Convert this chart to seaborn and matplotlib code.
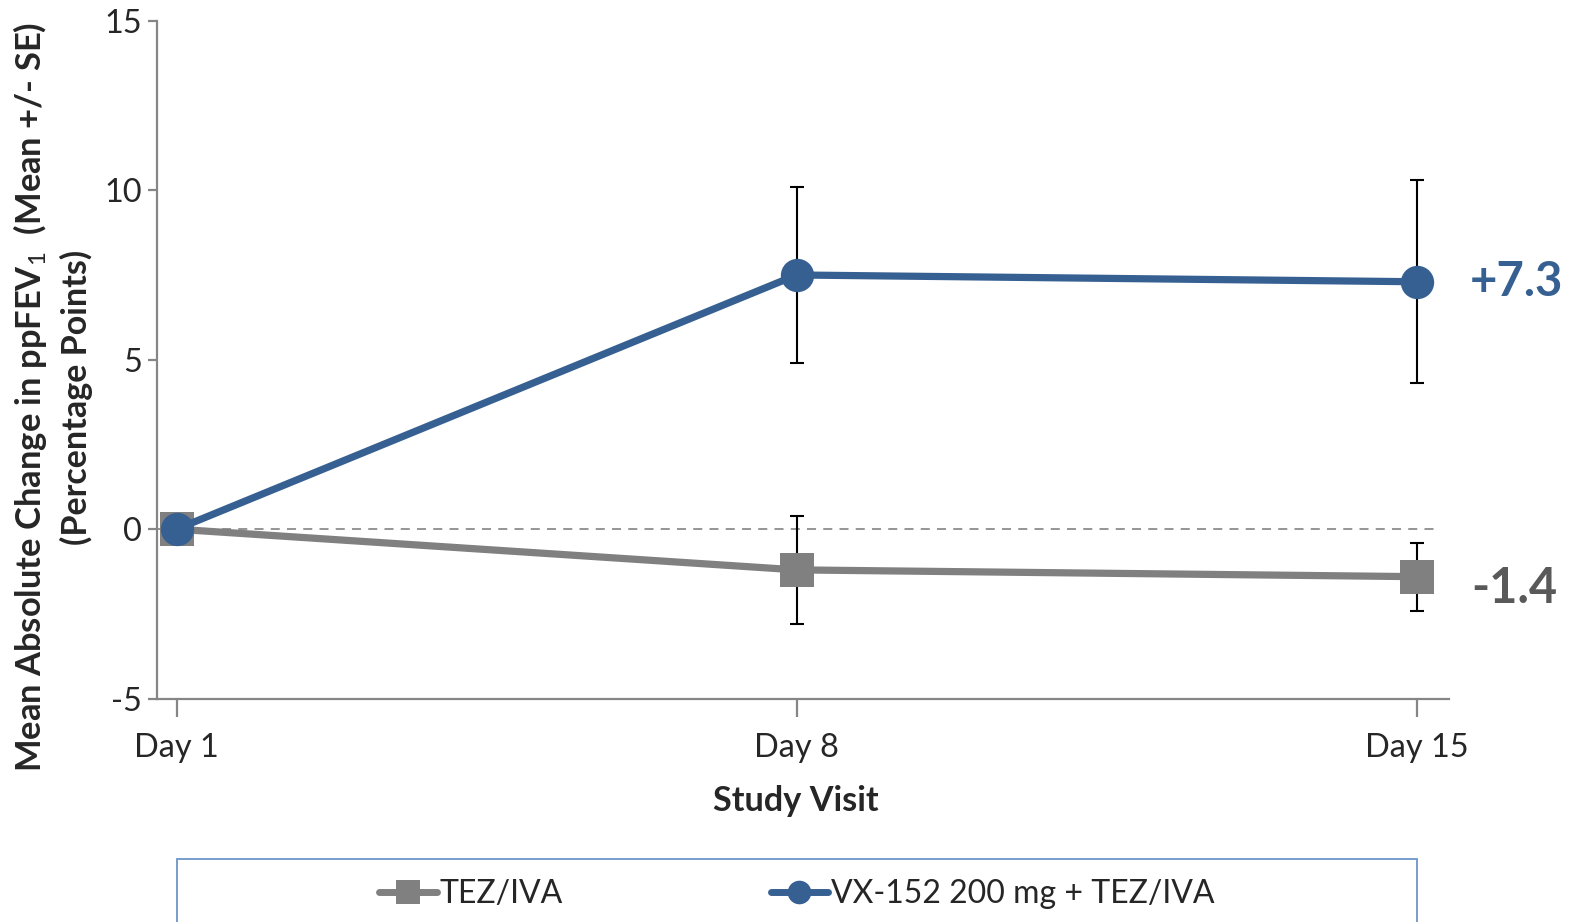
import matplotlib
matplotlib.use("Agg")
import matplotlib.pyplot as plt
from matplotlib.lines import Line2D
from matplotlib.patches import Rectangle
import seaborn as sns
import pandas as pd

# ---- data ----
visits = ["Day 1", "Day 8", "Day 15"]
groups = ["TEZ/IVA", "VX-152 200 mg + TEZ/IVA"]
tez_mean = [0.0, -1.2, -1.4]
tez_se = [0.0, 1.6, 1.0]
vx_mean = [0.0, 7.5, 7.3]
vx_se = [0.0, 2.6, 3.0]
end_labels = ["-1.4", "+7.3"]
yticks = [-5, 0, 5, 10, 15]

BLUE = "#366092"
GRAY = "#808080"
DGRAY = "#595959"
SPINE = "#868686"

sns.set_style("white")
plt.rcParams["font.family"] = ["Lato", "DejaVu Sans"]
plt.rcParams["axes.unicode_minus"] = False
plt.rcParams["mathtext.fontset"] = "custom"
plt.rcParams["mathtext.rm"] = "Lato"
plt.rcParams["mathtext.bf"] = "Lato:bold"
plt.rcParams["mathtext.it"] = "Lato"

df = pd.DataFrame({
    "x": list(range(len(visits))) * 2,
    "mean": tez_mean + vx_mean,
    "se": tez_se + vx_se,
    "group": [groups[0]] * len(visits) + [groups[1]] * len(visits),
})

fig = plt.figure(figsize=(15.75, 9.22), dpi=100)
ax = fig.add_axes([0.0995, 0.2422, 0.8205, 0.7353])

# zero reference line
ax.plot([-0.032, 2.03], [0, 0], color="#8c8c8c", lw=1.3, ls=(0, (5, 4)), zorder=1)

sns.lineplot(data=df, x="x", y="mean", hue="group", style="group",
             hue_order=groups, style_order=groups,
             palette={groups[0]: GRAY, groups[1]: BLUE},
             markers={groups[0]: "s", groups[1]: "o"}, dashes=False,
             linewidth=5.2, markersize=24, markeredgewidth=0,
             errorbar=None, legend=False, ax=ax, zorder=3)

for g, m, s in [(groups[0], tez_mean, tez_se), (groups[1], vx_mean, vx_se)]:
    xs = [i for i in range(len(visits)) if s[i] > 0]
    ax.errorbar(xs, [m[i] for i in xs], yerr=[s[i] for i in xs], fmt="none",
                ecolor="black", elinewidth=1.5, capsize=5, capthick=1.5, zorder=2)

# end labels
ax.text(2.088, tez_mean[-1] - 0.35, end_labels[0], color=DGRAY, fontsize=35,
        fontweight="bold", ha="left", va="center", clip_on=False)
ax.text(2.085, vx_mean[-1], end_labels[1], color=BLUE, fontsize=34,
        fontweight="bold", ha="left", va="center", clip_on=False)

ax.set_xlim(-0.032, 2.052)
ax.set_ylim(-5, 15)
ax.set_xticks(range(len(visits)))
ax.set_xticklabels(visits)
ax.set_yticks(yticks)
ax.set_xlabel("")
ax.set_ylabel("")
for sp in ["top", "right"]:
    ax.spines[sp].set_visible(False)
for sp in ["left", "bottom"]:
    ax.spines[sp].set_color(SPINE)
    ax.spines[sp].set_linewidth(1.6)
ax.tick_params(axis="x", direction="out", length=13, width=1.6, color=SPINE,
               labelsize=23.4, pad=12, bottom=True)
ax.tick_params(axis="y", direction="out", length=6.5, width=1.6, color=SPINE,
               labelsize=23.4, pad=4, left=True)

fig.text(0.5055, 1 - 801 / 922, "Study Visit", ha="center", va="center",
         fontsize=24.7, fontweight="bold")
fig.text(30 / 1575, 1 - 397 / 922,
         r"Mean Absolute Change in ppFEV$_{1}$  (Mean +/- SE)",
         rotation=90, ha="center", va="center", fontsize=24.8, fontweight="bold")
fig.text(76 / 1575, 1 - 397 / 922, "(Percentage Points)",
         rotation=90, ha="center", va="center", fontsize=24.5, fontweight="bold")

# legend box
fig.patches.append(Rectangle((176.7 / 1575, -0.05), (1417 - 176.7) / 1575,
                             0.05 + 1 - 859 / 922, transform=fig.transFigure,
                             fill=False, edgecolor="#6d95c8", linewidth=1.3))
handles = [
    Line2D([], [], color=GRAY, lw=5, marker="s", markersize=17, markeredgewidth=0),
    Line2D([], [], color=BLUE, lw=5, marker="o", markersize=17, markeredgewidth=0),
]
fig.legend(handles, groups, loc="center", bbox_to_anchor=(0.506, 1 - 894 / 922),
           ncol=2, frameon=False, fontsize=23, handlelength=1.8,
           handletextpad=0.1, columnspacing=6.5)

fig.savefig("out.png", dpi=100)
